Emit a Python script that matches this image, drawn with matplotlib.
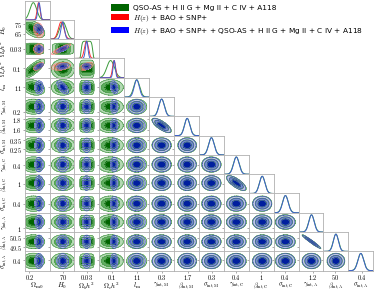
import numpy as np
import matplotlib.pyplot as plt
from matplotlib.patches import Patch

plt.rcParams['mathtext.fontset'] = 'cm'
plt.rcParams['font.family'] = 'DejaVu Sans'

# parameter labels, plot ranges and ticks
labels = [r'$\Omega_{\rm m0}$', r'$H_0$', r'$\Omega_b h^2$', r'$\Omega_c h^2$', r'$l_{\rm m}$',
          r'$\gamma_{\rm int,M}$', r'$\beta_{\rm int,M}$', r'$\sigma_{\rm int,M}$',
          r'$\gamma_{\rm int,C}$', r'$\beta_{\rm int,C}$', r'$\sigma_{\rm int,C}$',
          r'$\gamma_{\rm int,A}$', r'$\beta_{\rm int,A}$', r'$\sigma_{\rm int,A}$']
lims = [(0.15, 0.41), (59, 79.5), (0.005, 0.055), (0.0, 0.2), (10.45, 11.55),
        (0.12, 0.47), (1.48, 1.86), (0.19, 0.40), (0.23, 0.59), (0.75, 1.25),
        (0.23, 0.59), (0.90, 1.42), (49.1, 51.1), (0.28, 0.50)]
xticks = [0.2, 70, 0.03, 0.1, 11, 0.3, 1.7, 0.3, 0.4, 1, 0.4, 1.2, 50, 0.4]
yticks = [[], [65, 75], [0.03], [0.1], [11], [0.2], [1.6, 1.8], [0.25, 0.35],
          [0.4], [1], [0.4], [1], [49.5, 50.5], [0.4]]

# posterior summaries (mean, sigma, shape exponent)
qso_mean = [0.24, 70.0, 0.030, 0.090, 11.0, 0.295, 1.68, 0.295, 0.41, 1.02, 0.40, 1.17, 50.1, 0.39]
qso_sig = [0.035, 2.8, 0.011, 0.030, 0.13, 0.040, 0.042, 0.024, 0.042, 0.057, 0.042, 0.058, 0.21, 0.026]
qso_pow = [2, 2, 8, 2, 2, 2, 2, 2, 2, 2, 2, 2, 2, 2]
qso_rho = {(0, 1): -0.5, (0, 3): 0.8, (0, 4): -0.3, (5, 6): -0.75, (8, 9): -0.75, (11, 12): -0.97}

hz_mean = [0.295, 68.5, 0.029, 0.118]
hz_sig = [0.015, 2.3, 0.004, 0.012]
hz_pow = [2, 2, 2, 2]
hz_rho = {(1, 2): 0.9, (1, 3): 0.3, (0, 1): -0.2, (0, 3): 0.6, (2, 3): 0.5}

all_mean = [0.300, 69.8, 0.0295, 0.119, 11.0, 0.295, 1.68, 0.295, 0.41, 1.02, 0.40, 1.17, 50.1, 0.39]
all_sig = [0.013, 1.4, 0.0025, 0.009, 0.11, 0.038, 0.040, 0.023, 0.040, 0.055, 0.040, 0.055, 0.20, 0.025]
all_pow = [2] * 14
all_rho = {(0, 1): -0.3, (0, 3): 0.6, (1, 2): 0.7, (1, 3): 0.3, (1, 4): -0.6, (3, 4): -0.3,
           (5, 6): -0.75, (8, 9): -0.75, (11, 12): -0.97}

leg_labels = ['QSO-AS + H II G + Mg II + C IV + A118', r'$H(z)$ + BAO + SNP+',
              r'$H(z)$ + BAO + SNP+ + QSO-AS + H II G + Mg II + C IV + A118']

sets = [
    dict(mean=qso_mean, sig=qso_sig, pw=qso_pow, rho=qso_rho, alpha=1.0,
         fill=['#b4dab4', '#5fae5f', '#006400'], edge='#4f9a4f', line='#3a9a3a'),
    dict(mean=hz_mean, sig=hz_sig, pw=hz_pow, rho=hz_rho, alpha=0.55,
         fill=['#ffc8c8', '#ff7878', '#ff0000'], edge='#ff5050', line='#ff3030'),
    dict(mean=all_mean, sig=all_sig, pw=all_pow, rho=all_rho, alpha=0.9,
         fill=['#c4c8ee', '#7d88dc', '#0018b0'], edge='#3e55b0', line='#4060d0'),
]

n = len(labels)


def dens2d(d, i, j, X, Y):
    u = (X - d['mean'][i]) / d['sig'][i]
    v = (Y - d['mean'][j]) / d['sig'][j]
    r = d['rho'].get((min(i, j), max(i, j)), 0.0)
    if r != 0.0:
        q = (u ** 2 - 2 * r * u * v + v ** 2) / (1 - r ** 2)
    else:
        q = np.abs(u) ** d['pw'][i] + np.abs(v) ** d['pw'][j]
    return np.exp(-0.5 * q)


def levels(z):
    s = np.sort(z.ravel())[::-1]
    c = np.cumsum(s) / s.sum()
    return [s[np.searchsorted(c, f)] for f in (0.997, 0.95, 0.68)]


fig, axes = plt.subplots(n, n, figsize=(3.74, 2.91), dpi=100)
fig.subplots_adjust(left=0.066, right=0.998, top=0.998, bottom=0.07, wspace=0, hspace=0)

for i in range(n):
    for j in range(n):
        ax = axes[i, j]
        if j > i:
            ax.axis('off')
            continue
        for sp in ax.spines.values():
            sp.set_color('#b0b0b0')
            sp.set_linewidth(0.6)
        if i == j:
            x = np.linspace(*lims[i], 200)
            for d in sets:
                if i >= len(d['mean']):
                    continue
                u = (x - d['mean'][i]) / d['sig'][i]
                ax.plot(x, np.exp(-0.5 * np.abs(u) ** d['pw'][i]), color=d['line'], lw=0.7)
            ax.set_ylim(0, 1.12)
            ax.set_yticks([])
        else:
            for d in sets:
                if i >= len(d['mean']):
                    continue
                xs = np.linspace(d['mean'][j] - 6 * d['sig'][j], d['mean'][j] + 6 * d['sig'][j], 160)
                ys = np.linspace(d['mean'][i] - 6 * d['sig'][i], d['mean'][i] + 6 * d['sig'][i], 160)
                X, Y = np.meshgrid(xs, ys)
                Z = dens2d(d, j, i, X, Y)
                lv = levels(Z) + [Z.max() * 1.01]
                ax.contourf(X, Y, Z, levels=lv, colors=d['fill'], alpha=d['alpha'])
                ax.contour(X, Y, Z, levels=lv[:3], colors=d['edge'], linewidths=0.5, alpha=d['alpha'])
            ax.set_ylim(*lims[i])
            ax.set_yticks(yticks[i])
        ax.set_xlim(*lims[j])
        ax.set_xticks([xticks[j]])
        ax.tick_params(length=1.5, width=0.5, color='#888888', pad=0.5, labelsize=4.6)
        if i == n - 1:
            ax.set_xticklabels(['$%g$' % xticks[j]])
            ax.set_xlabel(labels[j], fontsize=5 if j < 5 else 4.5)
            ax.xaxis.set_label_coords(0.5, -0.52)
        else:
            ax.set_xticklabels([])
        if j == 0 and i > 0:
            ax.set_yticklabels(['$%g$' % t for t in yticks[i]])
            ax.set_ylabel(labels[i], fontsize=5 if i < 5 else 4.5)
            ax.yaxis.set_label_coords(-0.63, 0.5)
        else:
            ax.set_yticklabels([])

handles = [Patch(fc='#006400'), Patch(fc='#ff0000'), Patch(fc='#0000ff')]
fig.legend(handles, leg_labels, loc='upper left', bbox_to_anchor=(0.285, 1.0), frameon=False,
           fontsize=5.3, handlelength=2.5, handleheight=0.9, labelspacing=0.25,
           borderaxespad=0.2, handletextpad=0.5)

fig.savefig('out.png', dpi=100)
